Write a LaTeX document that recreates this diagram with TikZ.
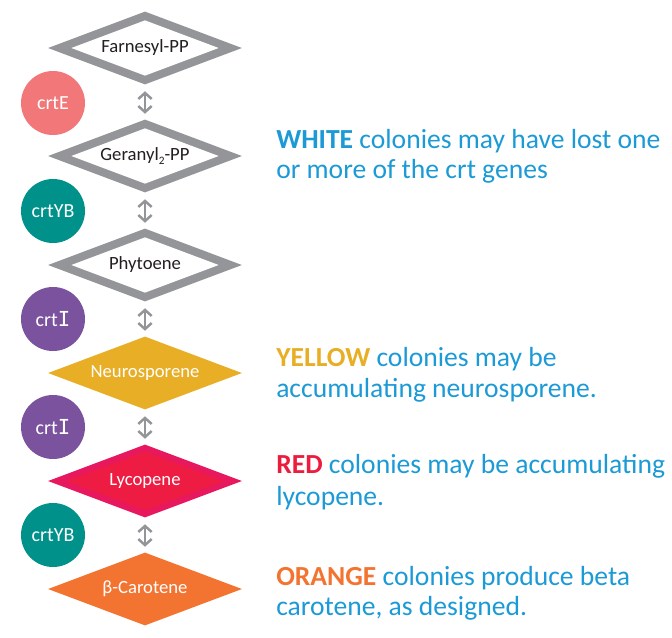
\documentclass[tikz,border=0pt]{standalone}
\usepackage{fontspec}
\setmainfont{Carlito}
\newfontfamily\monofnt{DejaVu Sans Mono}
\usetikzlibrary{shapes.geometric,arrows.meta}
\definecolor{grayc}{HTML}{939598}
\definecolor{txtblue}{HTML}{1B9AD6}
\definecolor{yel}{HTML}{E8AE25}
\definecolor{redw}{HTML}{EC1C3D}
\definecolor{oran}{HTML}{F37430}
\definecolor{lycout}{HTML}{E8185E}
\definecolor{lycin}{HTML}{EE1C42}
\definecolor{salmon}{HTML}{F27779}
\definecolor{teal}{HTML}{00918A}
\definecolor{purp}{HTML}{7A529E}
\definecolor{darktxt}{HTML}{231F20}
\newcommand{\crtI}{crt{\monofnt\fontsize{15.5}{17}\selectfont I}}
\begin{document}
\begin{tikzpicture}[x=0.75pt,y=-0.75pt,
  dia/.style={diamond, aspect=2.66, inner sep=0pt, minimum width=194*0.75pt, minimum height=73*0.75pt},
  diain/.style={diamond, aspect=2.66, inner sep=0pt, minimum width=147.5*0.75pt, minimum height=55.5*0.75pt},
  lycinner/.style={diamond, aspect=2.66, inner sep=0pt, minimum width=157*0.75pt, minimum height=59*0.75pt},
  lbl/.style={font=\fontsize{14}{16}\selectfont},
  circ/.style={circle, inner sep=0pt, minimum size=64*0.75pt, text=white, font=\fontsize{15}{17}\selectfont},
  conn/.style={draw=grayc, line width=2.5*0.75pt,
     {Straight Barb[length=4.5pt,width=10pt]}-{Straight Barb[length=4.5pt,width=10pt]},
     shorten <=6.5*0.75pt, shorten >=5.5*0.75pt},
  note/.style={anchor=base west, inner sep=0pt, text=txtblue, font=\fontsize{20.7}{24}\selectfont}
]
\useasboundingbox (0,0) rectangle (672,637);

% diamonds
\node[dia, fill=grayc] (farn) at (145,48) {};
\node[diain, fill=white, lbl, text=darktxt] (farnT) at (farn) {Farnesyl-PP};
\node[dia, fill=grayc] (ger) at (145,156) {};
\node[diain, fill=white, lbl, text=darktxt] (gerT) at (ger) {Geranyl\raisebox{-0.35ex}{\fontsize{8.5}{9}\selectfont 2}-PP};
\node[dia, fill=grayc] (phy) at (145,265) {};
\node[diain, fill=white, lbl, text=darktxt] (phyT) at (phy) {Phytoene};
\node[dia, fill=yel, lbl, text=white] (neu) at (145,373) {Neurosporene};
\node[dia, fill=lycout] (lyc) at (145,481) {};
\node[lycinner, fill=lycin, lbl, text=white] (lycT) at (lyc) {Lycopene};
\node[dia, fill=oran, lbl, text=white] (car) at (145,589) {β-Carotene};

% connectors
\draw[conn] (farn.south) -- (ger.north);
\draw[conn] (ger.south) -- (phy.north);
\draw[conn] (phy.south) -- (neu.north);
\draw[conn] (neu.south) -- (lyc.north);
\draw[conn] (lyc.south) -- (car.north);

% enzyme circles
\node[circ, fill=salmon] (e1) at (53,103) {crtE};
\node[circ, fill=teal] (e2) at (53,211) {crtYB};
\node[circ, fill=purp] (e3) at (53,319) {\crtI};
\node[circ, fill=purp] (e4) at (53,427) {\crtI};
\node[circ, fill=teal] (e5) at (53,535) {crtYB};

% notes
\node[note] (w1) at (276,148) {\textbf{WHITE} colonies may have lost one};
\node[note] (w2) at (276,178) {or more of the crt genes};
\node[note] (y1) at (276,366) {\textbf{\color{yel}YELLOW} colonies may be};
\node[note] (y2) at (276,397) {accumulating neurosporene.};
\node[note] (r1) at (276,473) {\textbf{\color{redw}RED} colonies may be accumulating};
\node[note] (r2) at (276,505) {lycopene.};
\node[note] (o1) at (276,585) {\textbf{\color{oran}ORANGE} colonies produce beta};
\node[note] (o2) at (276,615) {carotene, as designed.};
\end{tikzpicture}
\end{document}
